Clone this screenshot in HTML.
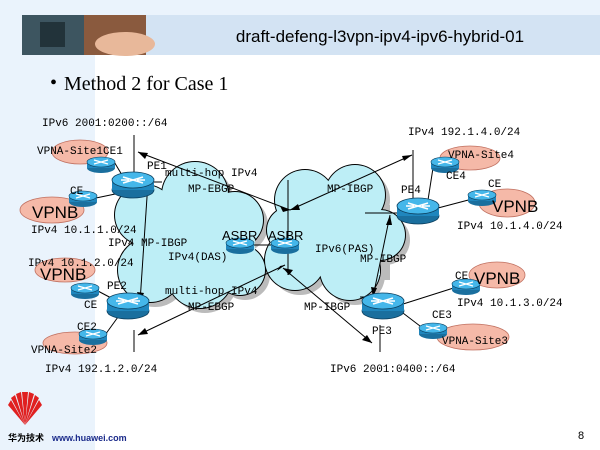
<!DOCTYPE html>
<html><head><meta charset="utf-8"><style>
body{margin:0;width:600px;height:450px;overflow:hidden;background:#fff;}
svg{display:block}
.m{font-family:"Liberation Mono","DejaVu Sans Mono",monospace;font-size:11px;fill:#000}
.s{font-family:"Liberation Sans",sans-serif;fill:#000}
</style></head><body>
<svg width="600" height="450" viewBox="0 0 600 450">
<defs>
<g id="R">
<ellipse cx="0" cy="6" rx="21" ry="8" fill="#1a6f9e" stroke="#0b3f5e" stroke-width="0.8"/>
<rect x="-21" y="-4" width="42" height="10" fill="#1f86bd"/>
<ellipse cx="0" cy="-4" rx="21" ry="8" fill="#45b7ea" stroke="#0b3f5e" stroke-width="0.8"/>
<path d="M-10,-7 L10,-1 M-10,-1 L10,-7 M-4,-4 L-12,-4 M4,-4 L12,-4" stroke="#fff" stroke-width="1.6"/>
</g>
<g id="r">
<ellipse cx="0" cy="4" rx="14" ry="5" fill="#1a6f9e"/>
<rect x="-14" y="-2" width="28" height="6" fill="#1f86bd"/>
<ellipse cx="0" cy="-2" rx="14" ry="5" fill="#45b7ea" stroke="#0b3f5e" stroke-width="0.6"/>
<path d="M-7,-4 L7,0 M-7,0 L7,-4" stroke="#fff" stroke-width="1.2"/>
</g>
</defs>
<rect x="0" y="0" width="95" height="450" fill="#eaf3fc"/>
<rect x="0" y="0" width="600" height="15" fill="#eaf3fc"/>
<rect x="25" y="15" width="575" height="40" fill="#d3e3f3"/>
<rect x="22" y="15" width="62" height="40" fill="#3d5560"/>
<rect x="84" y="15" width="62" height="40" fill="#8a5a3e"/>
<ellipse cx="125" cy="44" rx="30" ry="12" fill="#e8b89a"/>
<rect x="40" y="22" width="25" height="25" fill="#22333a"/>
<text x="380" y="42" class="s" font-size="17" text-anchor="middle">draft-defeng-l3vpn-ipv4-ipv6-hybrid-01</text>
<text x="50" y="89" font-family="Liberation Serif,serif" font-size="20">•</text>
<text x="64" y="90" font-family="Liberation Serif,serif" font-size="20">Method 2 for Case 1</text>

<g fill="#bbb">
<circle cx="150" cy="220" r="30"/><circle cx="200" cy="200" r="33"/><circle cx="240" cy="225" r="28"/><circle cx="155" cy="275" r="32"/><circle cx="205" cy="280" r="33"/><circle cx="245" cy="275" r="25"/><rect x="135" y="215" width="120" height="70"/>
<circle cx="310" cy="205" r="30"/><circle cx="360" cy="200" r="30"/><circle cx="385" cy="240" r="25"/><circle cx="300" cy="265" r="30"/><circle cx="355" cy="275" r="30"/><rect x="285" y="205" width="105" height="75"/>
</g>
<g fill="#000">
<circle cx="145" cy="215" r="31"/><circle cx="195" cy="195" r="34"/><circle cx="235" cy="220" r="29"/><circle cx="150" cy="270" r="33"/><circle cx="200" cy="275" r="34"/><circle cx="240" cy="270" r="26"/>
<circle cx="305" cy="200" r="31"/><circle cx="355" cy="195" r="31"/><circle cx="380" cy="235" r="26"/><circle cx="295" cy="260" r="31"/><circle cx="350" cy="270" r="31"/><circle cx="290" cy="230" r="24"/>
</g>
<g fill="#bdeef6">
<circle cx="145" cy="215" r="30"/><circle cx="195" cy="195" r="33"/><circle cx="235" cy="220" r="28"/><circle cx="150" cy="270" r="32"/><circle cx="200" cy="275" r="33"/><circle cx="240" cy="270" r="25"/><rect x="135" y="205" width="120" height="75"/>
<circle cx="305" cy="200" r="30"/><circle cx="355" cy="195" r="30"/><circle cx="380" cy="235" r="25"/><circle cx="295" cy="260" r="30"/><circle cx="350" cy="270" r="30"/><circle cx="290" cy="230" r="23"/><rect x="290" y="200" width="90" height="75"/>
</g>
<g fill="#f5b9a8" stroke="#c07060" stroke-width="0.8">
<ellipse cx="80" cy="152" rx="28" ry="12"/><ellipse cx="52" cy="210" rx="32" ry="13"/><ellipse cx="65" cy="270" rx="30" ry="12"/><ellipse cx="75" cy="343" rx="32" ry="11"/>
<ellipse cx="470" cy="158" rx="30" ry="12"/><ellipse cx="507" cy="203" rx="28" ry="14"/><ellipse cx="497" cy="275" rx="28" ry="13"/><ellipse cx="473" cy="337" rx="36" ry="13"/>
</g>
<g stroke="#000" stroke-width="1" fill="none">
<line x1="134" y1="135" x2="134" y2="182"/><line x1="134" y1="330" x2="134" y2="352"/>
<line x1="148" y1="182" x2="162" y2="182"/>
<line x1="138" y1="152" x2="290" y2="210"/><line x1="138" y1="335" x2="285" y2="265"/>
<line x1="148" y1="182" x2="140" y2="302"/>
<line x1="250" y1="245" x2="285" y2="245"/>
<line x1="288" y1="180" x2="288" y2="275"/>
<line x1="290" y1="210" x2="412" y2="155"/><line x1="413" y1="150" x2="413" y2="208"/>
<line x1="365" y1="213" x2="410" y2="213"/>
<line x1="390" y1="215" x2="373" y2="297"/><line x1="360" y1="297" x2="400" y2="297"/>
<line x1="283" y1="268" x2="372" y2="343"/><line x1="380" y1="325" x2="380" y2="352"/>
<line x1="113" y1="160" x2="125" y2="180"/><line x1="96" y1="198" x2="120" y2="193"/>
<line x1="96" y1="290" x2="115" y2="300"/><line x1="105" y1="335" x2="118" y2="317"/>
<line x1="433" y1="168" x2="428" y2="200"/><line x1="438" y1="208" x2="476" y2="198"/>
<line x1="400" y1="305" x2="463" y2="285"/><line x1="399" y1="310" x2="420" y2="326"/>
</g>
<g fill="#000">
<polygon points="138,152 148,153 145,159"/><polygon points="290,210 280,206 283,212"/>
<polygon points="138,335 148,334 145,328"/><polygon points="285,265 277,271 280,266"/>
<polygon points="148,182 145,192 152,191"/><polygon points="140,302 137,292 144,293"/>
<polygon points="290,210 298,204 300,210"/><polygon points="412,155 402,156 404,161"/>
<polygon points="390,215 386,225 392,225"/><polygon points="373,297 371,287 377,288"/>
<polygon points="283,268 293,270 289,275"/><polygon points="372,343 362,340 367,335"/>
</g>
<use href="#R" x="133" y="184"/><use href="#R" x="128" y="305"/>
<use href="#R" x="418" y="210"/><use href="#R" x="383" y="305"/>
<use href="#r" x="240" y="245"/><use href="#r" x="285" y="245"/>
<use href="#r" x="101" y="164"/><use href="#r" x="83" y="198"/><use href="#r" x="85" y="290"/><use href="#r" x="93" y="336"/>
<use href="#r" x="445" y="164"/><use href="#r" x="482" y="197"/><use href="#r" x="466" y="286"/><use href="#r" x="433" y="330"/>
<text class="m" x="42" y="126">IPv6  2001:0200::/64</text>
<text class="m" x="37" y="154">VPNA-Site1CE1</text>
<text class="m" x="147" y="169">PE1</text>
<text class="m" x="165" y="176">multi-hop IPv4</text>
<text class="m" x="188" y="192">MP-EBGP</text>
<text class="m" x="70" y="194">CE</text>
<text class="s" x="32" y="218" font-size="17">VPNB</text>
<text class="m" x="31" y="233">IPv4  10.1.1.0/24</text>
<text class="m" x="108" y="246">IPv4 MP-IBGP</text>
<text class="m" x="168" y="260">IPv4(DAS)</text>
<text class="s" x="222" y="240" font-size="13">ASBR</text><text class="s" x="268" y="240" font-size="13">ASBR</text>
<text class="m" x="28" y="266">IPv4 10.1.2.0/24</text>
<text class="s" x="40" y="280" font-size="17">VPNB</text>
<text class="m" x="107" y="289">PE2</text>
<text class="m" x="84" y="308">CE</text>
<text class="m" x="165" y="294">multi-hop IPv4</text>
<text class="m" x="188" y="310">MP-EBGP</text>
<text class="m" x="77" y="330">CE2</text>
<text class="m" x="31" y="353">VPNA-Site2</text>
<text class="m" x="45" y="372">IPv4  192.1.2.0/24</text>
<text class="m" x="408" y="135">IPv4  192.1.4.0/24</text>
<text class="m" x="448" y="158">VPNA-Site4</text>
<text class="m" x="446" y="179">CE4</text>
<text class="m" x="327" y="192">MP-IBGP</text>
<text class="m" x="401" y="193">PE4</text>
<text class="m" x="488" y="187">CE</text>
<text class="s" x="492" y="212" font-size="17">VPNB</text>
<text class="m" x="457" y="229">IPv4  10.1.4.0/24</text>
<text class="m" x="315" y="252">IPv6(PAS)</text>
<text class="m" x="360" y="262">MP-IBGP</text>
<text class="m" x="455" y="279">CE</text>
<text class="s" x="474" y="284" font-size="17">VPNB</text>
<text class="m" x="457" y="306">IPv4  10.1.3.0/24</text>
<text class="m" x="304" y="310">MP-IBGP</text>
<text class="m" x="432" y="318">CE3</text>
<text class="m" x="372" y="334">PE3</text>
<text class="m" x="442" y="344">VPNA-Site3</text>
<text class="m" x="330" y="372">IPv6  2001:0400::/64</text>
<g fill="#e02020">
<path d="M25,425 L8,405 L11,400 Z"/><path d="M25,425 L11,398 L15,395 Z"/><path d="M25,425 L16,394 L21,392 Z"/><path d="M25,425 L22,392 L28,392 Z"/><path d="M25,425 L29,392 L34,394 Z"/><path d="M25,425 L35,395 L39,398 Z"/><path d="M25,425 L39,400 L42,405 Z"/>
</g>
<text x="8" y="441" font-family="'Noto Sans CJK SC',sans-serif" font-size="9" font-weight="bold">华为技术</text>
<text x="52" y="441" class="s" font-size="9" font-weight="bold" style="fill:#1a2a8a">www.huawei.com</text>
<text x="578" y="439" class="s" font-size="11">8</text>
</svg>
</body></html>
